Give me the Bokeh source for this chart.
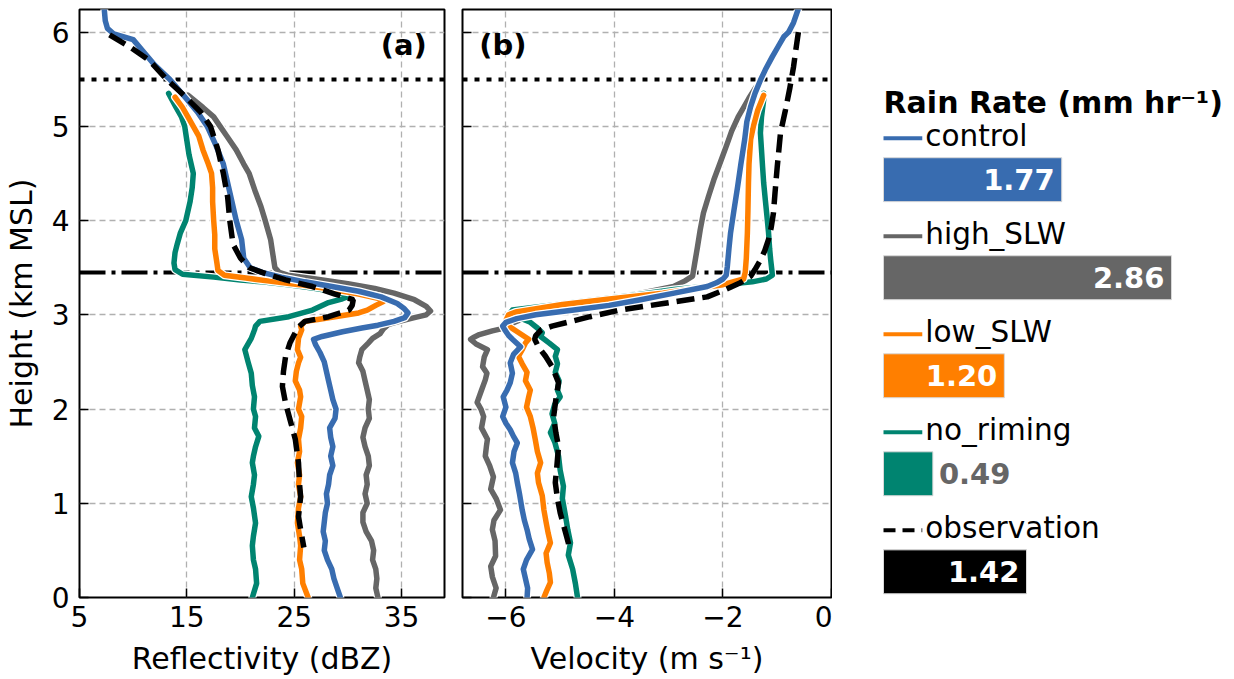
from bokeh.plotting import figure
from bokeh.layouts import row
from bokeh.models import Range1d, FixedTicker
from bokeh.core.properties import value
from bokeh.embed import file_html
from bokeh.resources import INLINE

FONT = "DejaVu Sans"

# ---------------- data ----------------
names = ["control", "high_SLW", "low_SLW", "no_riming", "observation"]
colors = ["#386cb0", "#666666", "#ff7f00", "#008470", "#000000"]
rain_rate = [1.77, 2.86, 1.20, 0.49, 1.42]

ref_dotted_h = 5.5
ref_dashdot_h = 3.45

# Panel (a): reflectivity (dBZ) vs height (km)
h_ctl_a = [6.25, 6.12, 6.04, 5.98, 5.92, 5.8, 5.65, 5.5, 5.3, 5.15, 5.0, 4.8, 4.6, 4.4, 4.2, 4.0, 3.8, 3.6,
           3.5, 3.45, 3.4, 3.35, 3.3, 3.25, 3.19, 3.12, 3.07, 3.02, 2.97, 2.93, 2.89, 2.86, 2.82, 2.77, 2.74,
           2.68, 2.6, 2.5, 2.4, 2.3, 2.2, 2.1, 2.0, 1.9, 1.8, 1.7, 1.6, 1.5, 1.4, 1.3, 1.2, 1.1, 1.0, 0.9, 0.8,
           0.7, 0.6, 0.5, 0.4, 0.3, 0.2, 0.1, 0.0]
z_ctl = [7.3, 7.4, 7.6, 8.2, 10.0, 10.9, 12.0, 13.4, 14.9, 16.0, 16.9, 17.7, 18.4, 18.8, 19.2, 19.6, 20.1, 20.3,
         20.9, 22.0, 23.8, 26.0, 28.5, 31.0, 33.1, 34.6, 35.2, 35.6, 35.3, 34.3, 32.8, 31.3, 29.5, 27.6, 26.8,
         27.0, 27.4, 27.8, 28.0, 28.2, 28.4, 28.6, 28.9, 28.8, 28.3, 28.4, 28.6, 28.4, 28.6, 28.3, 28.2, 28.0,
         28.1, 27.9, 27.8, 27.7, 27.9, 27.8, 28.1, 28.5, 28.7, 29.0, 29.3]

h_high_a = [5.33, 5.2, 5.1, 5.0, 4.9, 4.75, 4.6, 4.5, 4.3, 4.15, 4.0, 3.8, 3.65, 3.5, 3.45, 3.42, 3.38, 3.33,
            3.28, 3.23, 3.16, 3.09, 3.04, 3.0, 2.97, 2.93, 2.9, 2.85, 2.8, 2.75, 2.7, 2.63, 2.55, 2.49, 2.4,
            2.3, 2.2, 2.1, 2.0, 1.9, 1.8, 1.7, 1.6, 1.5, 1.4, 1.3, 1.2, 1.1, 1.0, 0.9, 0.8, 0.7, 0.6, 0.5,
            0.4, 0.3, 0.2, 0.1, 0.0]
z_high = [15.1, 16.5, 17.5, 18.1, 18.7, 19.6, 20.3, 20.8, 21.4, 21.9, 22.3, 22.8, 23.0, 23.2, 23.6, 24.4, 27.0,
          30.0, 32.5, 34.3, 36.2, 37.3, 37.7, 37.3, 36.2, 34.8, 33.8, 33.3, 33.0, 32.3, 31.9, 31.3, 31.1, 31.0,
          31.4, 31.6, 31.8, 32.0, 31.9, 32.0, 31.6, 31.4, 31.6, 31.9, 32.0, 31.7, 31.8, 31.6, 31.8, 31.4, 31.4,
          31.7, 32.2, 32.4, 32.3, 32.6, 32.7, 32.6, 32.8]

h_low_a = [5.31, 5.2, 5.1, 5.0, 4.9, 4.75, 4.6, 4.5, 4.35, 4.2, 4.0, 3.85, 3.7, 3.55, 3.47, 3.42, 3.39, 3.36,
           3.32, 3.27, 3.22, 3.17, 3.14, 3.1, 3.05, 3.02, 2.98, 2.95, 2.93, 2.88, 2.84, 2.75, 2.63, 2.55, 2.49,
           2.4, 2.3, 2.2, 2.13, 2.0, 1.92, 1.8, 1.68, 1.55, 1.43, 1.3, 1.2, 1.07, 0.95, 0.79, 0.65, 0.55, 0.4,
           0.3, 0.15, 0.0]
z_low = [13.9, 14.6, 15.1, 15.6, 16.1, 16.5, 17.0, 17.3, 17.4, 17.4, 17.5, 17.6, 17.6, 17.8, 17.9, 18.5, 20.5,
         22.5, 25.5, 28.5, 31.0, 33.0, 33.3, 32.6, 31.8, 31.0, 28.8, 27.2, 26.0, 25.6, 25.7, 25.4, 25.3, 25.6,
         25.4, 25.2, 25.1, 25.5, 25.6, 25.4, 25.7, 25.6, 25.4, 25.5, 25.3, 25.5, 25.4, 25.6, 25.4, 25.3, 25.5,
         25.6, 25.5, 25.7, 25.8, 26.3]

h_norime_a = [5.35, 5.2, 5.1, 5.0, 4.85, 4.7, 4.5, 4.35, 4.2, 4.0, 3.87, 3.75, 3.66, 3.55, 3.48, 3.43, 3.4,
              3.37, 3.35, 3.32, 3.28, 3.24, 3.2, 3.17, 3.13, 3.05, 2.98, 2.93, 2.88, 2.84, 2.75, 2.63, 2.5,
              2.38, 2.25, 2.13, 2.0, 1.92, 1.8, 1.71, 1.6, 1.5, 1.43, 1.3, 1.2, 1.07, 0.95, 0.79, 0.65, 0.55,
              0.4, 0.3, 0.15, 0.0]
z_norime = [13.3, 14.0, 14.5, 14.8, 15.0, 15.2, 15.6, 15.5, 15.3, 14.9, 14.4, 14.1, 13.9, 13.8, 13.9, 14.6,
            17.5, 20.0, 22.0, 24.5, 27.0, 29.0, 30.2, 29.5, 28.2, 26.7, 24.5, 21.8, 21.4, 21.3, 21.0, 20.4,
            20.7, 21.0, 21.1, 21.3, 21.2, 21.4, 21.3, 21.7, 21.4, 21.2, 21.1, 21.3, 21.2, 21.0, 21.2, 21.4,
            21.2, 21.1, 21.2, 21.4, 21.5, 21.1]

h_obs_a = [5.97, 5.85, 5.7, 5.5, 5.3, 5.15, 5.0, 4.75, 4.5, 4.25, 4.0, 3.75, 3.6, 3.5, 3.43, 3.37, 3.3, 3.22,
           3.16, 3.1, 3.05, 2.98, 2.93, 2.87, 2.81, 2.7, 2.56, 2.4, 2.24, 2.06, 1.85, 1.68, 1.43, 1.2, 1.07,
           0.86, 0.72, 0.53]
z_obs = [7.8, 9.6, 11.5, 13.1, 15.0, 16.3, 17.2, 17.9, 18.4, 18.8, 19.0, 19.3, 20.0, 20.8, 22.5, 24.2, 26.7,
         28.8, 30.5, 30.4, 30.1, 28.2, 26.0, 25.4, 25.1, 24.6, 24.2, 24.0, 23.9, 24.2, 24.7, 25.1, 25.4, 25.5,
         25.6, 25.4, 25.6, 25.9]

# Panel (b): velocity (m/s) vs height (km)
h_ctl_b = [6.25, 6.1, 6.0, 5.95, 5.85, 5.74, 5.6, 5.49, 5.35, 5.21, 5.05, 4.86, 4.6, 4.36, 4.1, 3.87, 3.7,
           3.51, 3.42, 3.38, 3.34, 3.30, 3.23, 3.16, 3.10, 3.05, 3.0, 2.96, 2.92, 2.88, 2.84, 2.78, 2.74, 2.66,
           2.58, 2.49, 2.38, 2.28, 2.2, 2.13, 2.02, 1.92, 1.85, 1.78, 1.71, 1.64, 1.55, 1.43, 1.32, 1.22, 1.1,
           0.93, 0.82, 0.72, 0.62, 0.51, 0.4, 0.3, 0.2, 0.1, 0.0]
v_ctl = [-0.61, -0.70, -0.79, -0.88, -0.98, -1.09, -1.22, -1.31, -1.41, -1.49, -1.56, -1.60, -1.67, -1.73,
         -1.80, -1.86, -1.89, -1.92, -1.94, -2.0, -2.12, -2.29, -2.9, -3.52, -4.1, -4.75, -5.45, -5.8, -6.0,
         -6.06, -6.02, -5.95, -5.88, -5.73, -5.86, -5.92, -5.88, -5.92, -5.98, -6.05, -6.0, -6.06, -6.0,
         -5.92, -5.86, -5.79, -5.85, -5.88, -5.82, -5.79, -5.75, -5.70, -5.66, -5.61, -5.57, -5.51, -5.62,
         -5.68, -5.64, -5.60, -5.61]

h_high_b = [5.41, 5.3, 5.2, 5.1, 4.95, 4.82, 4.6, 4.43, 4.25, 4.08, 3.9, 3.72, 3.55, 3.41, 3.36, 3.30, 3.22,
            3.14, 3.06, 2.98, 2.92, 2.87, 2.83, 2.79, 2.76, 2.74, 2.69, 2.63, 2.55, 2.45, 2.38, 2.31, 2.2,
            2.07, 2.0, 1.92, 1.8, 1.68, 1.6, 1.5, 1.4, 1.28, 1.15, 1.05, 0.93, 0.82, 0.72, 0.6, 0.44, 0.33,
            0.22, 0.1, 0.0]
v_high = [-1.40, -1.52, -1.62, -1.72, -1.84, -1.92, -2.06, -2.17, -2.27, -2.36, -2.42, -2.47, -2.52, -2.56,
          -2.70, -2.91, -3.6, -4.5, -5.1, -5.6, -5.85, -5.95, -6.25, -6.49, -6.60, -6.65, -6.55, -6.34,
          -6.40, -6.43, -6.35, -6.38, -6.45, -6.53, -6.46, -6.41, -6.45, -6.34, -6.36, -6.38, -6.30, -6.23,
          -6.28, -6.18, -6.10, -6.22, -6.25, -6.20, -6.19, -6.28, -6.25, -6.18, -6.23]

h_low_b = [5.33, 5.17, 5.0, 4.86, 4.6, 4.4, 4.1, 3.87, 3.6, 3.45, 3.38, 3.32, 3.28, 3.23, 3.17, 3.11, 3.06,
           3.03, 3.0, 2.94, 2.88, 2.82, 2.74, 2.70, 2.63, 2.56, 2.48, 2.39, 2.3, 2.2, 2.13, 2.02, 1.92, 1.8,
           1.68, 1.55, 1.43, 1.32, 1.22, 1.08, 0.93, 0.8, 0.68, 0.58, 0.47, 0.37, 0.26, 0.16, 0.07, 0.0]
v_low = [-1.25, -1.36, -1.44, -1.49, -1.52, -1.53, -1.54, -1.55, -1.57, -1.59, -1.62, -2.0, -2.5, -3.11,
         -4.05, -4.96, -5.5, -5.82, -5.95, -6.0, -5.95, -5.79, -5.58, -5.64, -5.70, -5.77, -5.70, -5.61,
         -5.64, -5.55, -5.58, -5.62, -5.55, -5.50, -5.46, -5.42, -5.36, -5.42, -5.40, -5.33, -5.30, -5.26,
         -5.22, -5.18, -5.26, -5.24, -5.20, -5.18, -5.25, -5.30]

h_norime_b = [5.35, 5.28, 5.1, 4.93, 4.75, 4.57, 4.4, 4.22, 4.05, 3.87, 3.7, 3.58, 3.48, 3.42, 3.38, 3.35,
              3.32, 3.27, 3.21, 3.15, 3.10, 3.05, 3.02, 2.97, 2.92, 2.86, 2.81, 2.77, 2.7, 2.63, 2.56, 2.48,
              2.39, 2.3, 2.2, 2.13, 2.05, 1.95, 1.85, 1.75, 1.65, 1.5, 1.35, 1.18, 1.05, 0.86, 0.72, 0.58,
              0.45, 0.3, 0.15, 0.0]
v_norime = [-1.25, -1.25, -1.29, -1.31, -1.29, -1.27, -1.25, -1.22, -1.19, -1.16, -1.14, -1.12, -1.10,
            -1.09, -1.2, -1.46, -2.0, -2.9, -3.61, -4.5, -5.2, -5.88, -5.92, -5.75, -5.55, -5.42, -5.33,
            -5.36, -5.20, -5.05, -5.09, -5.05, -5.09, -5.02, -5.05, -5.00, -5.10, -5.15, -5.10, -5.18, -5.10,
            -5.03, -5.00, -4.94, -4.96, -4.90, -4.86, -4.81, -4.85, -4.77, -4.72, -4.68]

h_obs_b = [6.0, 5.8, 5.63, 5.4, 5.17, 4.93, 4.75, 4.57, 4.3, 4.08, 3.93, 3.80, 3.68, 3.58, 3.48, 3.41, 3.34,
           3.27, 3.19, 3.12, 3.05, 2.98, 2.93, 2.88, 2.84, 2.78, 2.74, 2.66, 2.56, 2.45, 2.28, 2.1, 1.92,
           1.75, 1.6, 1.4, 1.22, 1.05, 0.9, 0.75, 0.58, 0.51]
v_obs = [-0.61, -0.66, -0.70, -0.77, -0.85, -0.94, -0.97, -1.00, -1.04, -1.07, -1.11, -1.16, -1.23, -1.31,
         -1.41, -1.49, -1.68, -1.95, -2.29, -3.1, -3.9, -4.45, -4.8, -5.15, -5.35, -5.45, -5.47, -5.40,
         -5.27, -5.15, -5.03, -5.08, -5.12, -5.08, -5.03, -5.06, -5.09, -5.05, -5.00, -4.93, -4.85, -4.83]

ticks_a = [5, 15, 25, 35]
ticks_b = [-6, -4, -2, 0]
ticks_y = [0, 1, 2, 3, 4, 5, 6]

profiles_a = [(h_high_a, z_high, 1), (h_norime_a, z_norime, 3), (h_low_a, z_low, 2), (h_ctl_a, z_ctl, 0)]
profiles_b = [(h_high_b, v_high, 1), (h_norime_b, v_norime, 3), (h_low_b, v_low, 2), (h_ctl_b, v_ctl, 0)]

H = 678
BT = 9    # top border
BB = 80   # bottom border


def make_panel(xr, xticks, xlabel, width, mbl, mbr, first):
    p = figure(width=width, height=H, x_range=Range1d(*xr), y_range=Range1d(0, 6.24),
               output_backend="svg", toolbar_location=None,
               min_border_left=mbl, min_border_right=mbr, min_border_top=BT, min_border_bottom=BB)
    p.outline_line_color = "black"
    p.outline_line_width = 2
    p.xaxis.ticker = FixedTicker(ticks=xticks)
    p.yaxis.ticker = FixedTicker(ticks=ticks_y)
    p.grid.grid_line_color = "#b0b0b0"
    p.grid.grid_line_width = 1.3
    p.grid.grid_line_dash = "6 4"
    for ax in p.axis:
        ax.axis_line_color = None
        ax.major_tick_in = 9
        ax.major_tick_out = 0
        ax.major_tick_line_width = 1.5
        ax.major_tick_line_color = "black"
        ax.minor_tick_line_color = None
        ax.major_label_text_font = FONT
        ax.major_label_text_font_size = "28px"
        ax.major_label_text_color = "black"
        ax.axis_label_text_font = FONT
        ax.axis_label_text_font_size = "30px"
        ax.axis_label_text_font_style = "normal"
        ax.axis_label_text_color = "black"
    p.xaxis.axis_label = xlabel
    p.xaxis.major_label_standoff = 8
    p.xaxis.axis_label_standoff = 11
    p.xaxis.major_label_overrides = {t: str(t).replace("-", "\u2212") for t in xticks}
    if first:
        p.yaxis.axis_label = "Height (km MSL)"
        p.yaxis.major_label_standoff = 10
        p.yaxis.axis_label_standoff = 10
    else:
        p.yaxis.major_label_overrides = {t: "" for t in ticks_y}
        p.yaxis.major_label_standoff = 0
    # reference levels
    p.hspan(y=[ref_dotted_h], line_color="black", line_width=4, line_dash="5 7")
    p.hspan(y=[ref_dashdot_h], line_color="black", line_width=4, line_dash="26 6 4 6")
    return p


def draw_profiles(p, profiles, h_obs, x_obs):
    for h, x, k in profiles:
        p.line(x, h, line_color="white", line_width=8, line_join="round", line_cap="round")
        p.line(x, h, line_color=colors[k], line_width=5.5, line_join="round", line_cap="round")
    p.line(x_obs, h_obs, line_color=colors[4], line_width=5.5, line_dash="18 8")


pa = make_panel((5, 39), ticks_a, "Reflectivity (dBZ)", 453, 75, 9, True)
draw_profiles(pa, profiles_a, h_obs_a, z_obs)
pa.text(x=[37.35], y=[5.864], text=["(a)"], text_font=value(FONT), text_font_size="29px",
        text_font_style="bold", text_align="right", text_baseline="middle", text_color="black")

pb = make_panel((-6.8, 0), ticks_b, "Velocity (m s\u207b\u00b9)", 379, 9, 1, False)
draw_profiles(pb, profiles_b, h_obs_b, v_obs)
pb.text(x=[-6.49], y=[5.864], text=["(b)"], text_font=value(FONT), text_font_size="29px",
        text_font_style="bold", text_align="left", text_baseline="middle", text_color="black")

# ---------------- rain-rate legend/bar panel ----------------
pc = figure(width=395, height=H, x_range=Range1d(-0.5065, 3.416), y_range=Range1d(4.262, -1.736),
            output_backend="svg", toolbar_location=None, x_axis_type=None, y_axis_type=None,
            min_border_left=0, min_border_right=0, min_border_top=BT, min_border_bottom=BB)
pc.outline_line_color = None
pc.grid.visible = False

rows = list(range(len(names)))
pc.text(x=[0], y=[-0.79], text=["Rain Rate (mm hr\u207b\u00b9)"], text_font=value(FONT),
        text_font_size="30px", text_font_style="bold", text_baseline="middle", text_color="black")

for i in rows:
    dash = "12 7" if names[i] == "observation" else "solid"
    pc.segment(x0=[0], x1=[0.385], y0=[i - 0.423], y1=[i - 0.423], line_color=colors[i],
               line_width=4, line_dash=dash)

pc.text(x=[0.415] * len(rows), y=[i - 0.444 for i in rows], text=names, text_font=value(FONT),
        text_font_size="29.5px", text_baseline="middle", text_color="black")

pc.hbar(y=rows, left=0, right=rain_rate, height=0.448, fill_color=colors, line_color="#d8d8d8",
        line_width=1)

inside = [r >= 0.8 for r in rain_rate]
val_x = [r - 0.07 if ins else r + 0.06 for r, ins in zip(rain_rate, inside)]
val_align = ["right" if ins else "left" for ins in inside]
val_color = ["white" if ins else "#666666" for ins in inside]
val_text = ["%.2f" % r for r in rain_rate]
pc.text(x=val_x, y=rows, text=val_text, text_align=val_align, text_color=val_color,
        text_font=value(FONT), text_font_size="29px", text_font_style="bold", text_baseline="middle")

layout = row(pa, pb, pc)
open("out.html", "w").write(file_html(layout, INLINE))
